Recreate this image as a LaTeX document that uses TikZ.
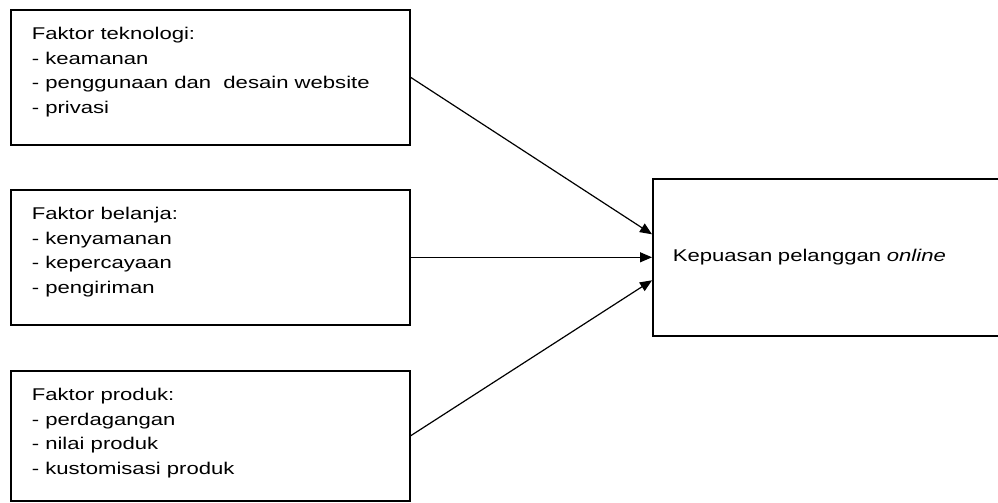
\documentclass[tikz,border=0pt]{standalone}
\usepackage{fontspec}
\setmainfont{Liberation Sans}[FakeStretch=1.3]
\usetikzlibrary{arrows.meta}

\begin{document}
\begin{tikzpicture}[x=1pt, y=-1pt,
  faktor/.style={draw, line width=1.6pt, anchor=north west, inner xsep=21pt, inner ysep=17.5pt,
    font=\fontsize{17}{24.5}\selectfont},
  panah/.style={line width=1.2pt, -{Triangle[length=12pt,width=10pt]}}]
\def\isilebar{357pt}
\clip (0,0) rectangle (998,503);

% FAKTOR BOXES
\node[faktor] (teknologi) at (10,9) {\parbox[t][100pt][t]{\isilebar}{Faktor teknologi:\\- keamanan\\- penggunaan dan~ desain website\\- privasi}};
\node[faktor] (belanja) at (10,189) {\parbox[t][100pt][t]{\isilebar}{Faktor belanja:\\- kenyamanan\\- kepercayaan\\- pengiriman}};
\node[faktor] (produk) at (10,370) {\parbox[t][95pt][t]{\isilebar}{Faktor produk:\\- perdagangan\\- nilai produk\\- kustomisasi produk}};

% RESULT BOX
\node[faktor, inner xsep=20pt, inner ysep=0pt, minimum width=360pt, minimum height=157pt,
  text width=320pt, align=left] (kepuasan) at (652,178) {Kepuasan pelanggan \textit{online}};

% ARROWS
\draw[panah] (teknologi.east) -- ([yshift=23pt]kepuasan.west);
\draw[panah] (belanja.east) -- (kepuasan.west);
\draw[panah] (produk.east) -- ([yshift=-23pt]kepuasan.west);
\end{tikzpicture}
\end{document}
